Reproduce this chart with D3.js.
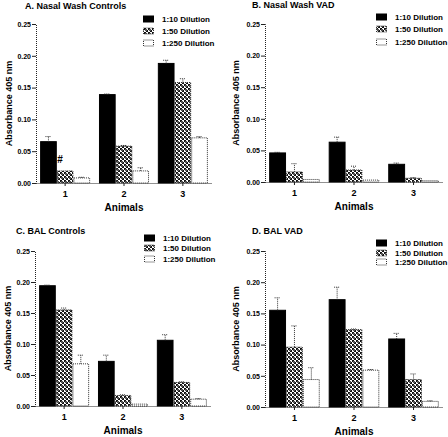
<!DOCTYPE html>
<html><head><meta charset="utf-8">
<script src="https://cdn.jsdelivr.net/npm/d3@7"></script>
<style>
body{margin:0;background:#fff;}
svg{display:block;font-family:"Liberation Sans",Arial,sans-serif;}
</style></head>
<body><svg id="c" width="448" height="437"></svg>
<script>
// ---- data ----
const animals = ["1","2","3"];
const series = ["1:10 Dilution","1:50 Dilution","1:250 Dilution"];
const yTicks = [0,0.05,0.10,0.15,0.20,0.25];
const titles = ["A. Nasal Wash Controls","B. Nasal Wash VAD","C. BAL Controls","D. BAL VAD"];
// values per panel: [series][animal]
const valuesA = [[0.065,0.139,0.188],[0.019,0.058,0.158],[0.008,0.019,0.071]];
const errorsA = [[0.008,0.001,0.005],[0.000,0.001,0.006],[0.001,0.005,0.002]];
const valuesB = [[0.046,0.063,0.028],[0.016,0.019,0.006],[0.004,0.003,0.002]];
const errorsB = [[0.001,0.008,0.002],[0.013,0.006,0.001],[0.000,0.000,0.000]];
const valuesC = [[0.194,0.072,0.106],[0.155,0.017,0.038],[0.068,0.003,0.011]];
const errorsC = [[0.001,0.010,0.009],[0.003,0.001,0.001],[0.014,0.000,0.001]];
const valuesD = [[0.155,0.172,0.109],[0.096,0.124,0.044],[0.044,0.059,0.009]];
const errorsD = [[0.020,0.020,0.009],[0.034,0.001,0.009],[0.019,0.001,0.001]];
const markers = [{panel:0, series:1, animal:0, text:"#"}];

// ---- layout ----
const panels = [
  {vals:valuesA, errs:errorsA, x0:36, x1:212, y0:183, y1:24, tx:25, ty:9, lx:143, ly:[19,31,43], ylx:9},
  {vals:valuesB, errs:errorsB, x0:265, x1:443, y0:182, y1:24, tx:252, ty:8, lx:376, ly:[17,29,42], ylx:236},
  {vals:valuesC, errs:errorsC, x0:35, x1:211, y0:406, y1:251, tx:16, ty:234, lx:144, ly:[238,248,259], ylx:8},
  {vals:valuesD, errs:errorsD, x0:265, x1:443, y0:407, y1:251, tx:252, ty:234, lx:376, ly:[243,253,262], ylx:236}
];

const svg = d3.select("#c");
const defs = svg.append("defs");
const pat = defs.append("pattern").attr("id","hatch").attr("patternUnits","userSpaceOnUse")
  .attr("width",4).attr("height",4);
pat.append("rect").attr("width",4).attr("height",4).attr("fill","#fff");
pat.append("rect").attr("x",0).attr("y",0).attr("width",2).attr("height",2).attr("fill","#111");
pat.append("rect").attr("x",2).attr("y",2).attr("width",2).attr("height",2).attr("fill","#111");
pat.append("rect").attr("x",1).attr("y",1).attr("width",2).attr("height",2).attr("fill","#555");

const fills = ["#000","url(#hatch)","#fff"];
const strokes = ["#000","#333","#333"];
const dashes = [null,"1,1","1,1"];

panels.forEach((p,pi)=>{
  const g = svg.append("g");
  const y = d3.scaleLinear().domain([0,0.25]).range([p.y0,p.y1]);
  const x = d3.scaleBand().domain(animals).range([p.x0,p.x1]).paddingInner(0.15).paddingOuter(0.07);
  const xs = d3.scaleBand().domain(d3.range(series.length)).range([0,x.bandwidth()]);

  // bars
  series.forEach((s,si)=>{
    animals.forEach((a,ai)=>{
      const v = p.vals[si][ai], e = p.errs[si][ai];
      const bx = x(a)+xs(si), bw = xs.bandwidth();
      g.append("rect").attr("x",bx+0.5).attr("y",y(v)).attr("width",bw-1).attr("height",y(0)-y(v))
        .attr("fill",fills[si]).attr("stroke",strokes[si]).attr("stroke-width",1)
        .attr("stroke-dasharray",dashes[si]);
      if(e>0){
        const cx = bx+bw/2;
        g.append("line").attr("x1",cx).attr("x2",cx).attr("y1",y(v)).attr("y2",y(v+e))
          .attr("stroke","#333").attr("stroke-dasharray","1,1");
        g.append("line").attr("x1",cx-3).attr("x2",cx+3).attr("y1",y(v+e)).attr("y2",y(v+e))
          .attr("stroke","#333").attr("stroke-dasharray","1,1");
      }
    });
  });

  // axes
  const ya = d3.axisLeft(y).tickValues(yTicks).tickFormat(d3.format(".2f")).tickSize(4);
  const yg = g.append("g").attr("transform",`translate(${p.x0},0)`).call(ya);
  const xa = d3.axisBottom(x).tickSize(3).tickSizeOuter(0);
  const xg = g.append("g").attr("transform",`translate(0,${p.y0})`).call(xa);
  [yg,xg].forEach(ax=>{
    ax.select(".domain").attr("stroke","#222").attr("stroke-dasharray","1,1");
    ax.selectAll(".tick line").attr("stroke","#222");
    ax.selectAll("text").attr("fill","#000").attr("font-weight","bold");
  });
  yg.selectAll("text").attr("font-size",7).attr("x",-5);
  xg.selectAll("text").attr("font-size",9).attr("dy","0.9em");

  // title
  g.append("text").attr("x",p.tx).attr("y",p.ty).attr("font-size",9).attr("font-weight","bold").text(titles[pi]);
  // y label
  g.append("text").attr("transform",`translate(${p.ylx},${(p.y0+p.y1)/2}) rotate(-90)`)
    .attr("text-anchor","middle").attr("font-size",9).attr("font-weight","bold").attr("dy","0.35em")
    .text("Absorbance 405 nm");
  // x label
  g.append("text").attr("x",(p.x0+p.x1)/2).attr("y",p.y0+28).attr("text-anchor","middle")
    .attr("font-size",10).attr("font-weight","bold").text("Animals");
  // legend
  series.forEach((s,si)=>{
    g.append("rect").attr("x",p.lx+0.5).attr("y",p.ly[si]-3).attr("width",10).attr("height",6)
      .attr("fill",fills[si]).attr("stroke",strokes[si]).attr("stroke-dasharray",dashes[si]);
    g.append("text").attr("x",p.lx+19).attr("y",p.ly[si]).attr("dy","0.35em")
      .attr("font-size",8).attr("font-weight","bold").text(s);
  });
  // markers
  markers.filter(m=>m.panel===pi).forEach(m=>{
    const v = p.vals[m.series][m.animal]+p.errs[m.series][m.animal];
    g.append("text").attr("x",x(animals[m.animal])+xs(m.series)+xs.bandwidth()/2 - 5)
      .attr("y",y(v)-8).attr("text-anchor","middle").attr("font-size",10).attr("font-weight","bold").text(m.text);
  });
});
</script></body></html>
